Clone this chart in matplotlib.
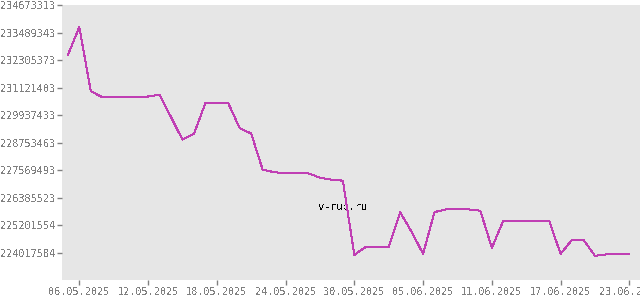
import numpy as np
import pandas as pd
import matplotlib
matplotlib.use("Agg")
import matplotlib.pyplot as plt

# daily rate, 05.05.2025 .. 23.06.2025
dates = pd.date_range("2025-05-05", "2025-06-23", freq="D")
values = [
    232515933, 233724066, 230962619, 230703734, 230703734, 230703734, 230703734, 230733937,
    230807288, 229849411, 228878590, 229124532, 230444848, 230444848, 230444848, 229366158,
    229137476, 227584162, 227476293, 227424516, 227424516, 227424516, 227238982, 227152686,
    227109539, 223916616, 224261797, 224261797, 224261797, 225750389, 224909011, 223959764,
    225759018, 225871203, 225871203, 225871203, 225815111, 224218649, 225383635, 225383635,
    225383635, 225383635, 225383635, 223959764, 224563830, 224563830, 223873468, 223938190,
    223972708, 223972708,
]

y_min, y_max = 222833614, 234673313
y_labels = ["224017584", "225201554", "226385523", "227569493", "228753463",
            "229937433", "231121403", "232305373", "233489343", "234673313"]
x_ticks = ["06.05.2025", "12.05.2025", "18.05.2025", "24.05.2025", "30.05.2025",
           "05.06.2025", "11.06.2025", "17.06.2025", "23.06.2025"]

plt.rcParams["font.family"] = ["DejaVu Sans Mono", "DejaVu Sans"]
plt.rcParams["text.antialiased"] = False

fig = plt.figure(figsize=(6.4, 3.0), dpi=100)
ax = fig.add_axes([62 / 640, 20 / 300, 578 / 640, 275 / 300])
ax.set_facecolor("#e6e6e6")

ax.plot(dates, values, color="#c03fb4", linewidth=0.75, antialiased=False, zorder=3)

x0 = dates[0]
ax.set_xlim(x0 - pd.Timedelta(days=0.51), x0 + pd.Timedelta(days=49.93))
ax.set_ylim(y_min, y_max)

tick_dates = pd.to_datetime(x_ticks, format="%d.%m.%Y")
ax.set_xticks(tick_dates)
ax.set_xticklabels(x_ticks)
ax.set_yticks(np.linspace(y_min, y_max, 11)[1:])
ax.set_yticklabels(y_labels)

for s in ax.spines.values():
    s.set_visible(False)
ax.tick_params(axis="both", colors="#808080", labelcolor="#808080", labelsize=7.4,
               length=3.5, width=1, pad=1.5)

# watermark
ax.text((343 - 62) / 578, (280 - 207) / 275, "v-rub.ru", transform=ax.transAxes,
        ha="center", va="center", fontsize=7.4, color="black", zorder=2)

fig.savefig("out.png", dpi=100)
